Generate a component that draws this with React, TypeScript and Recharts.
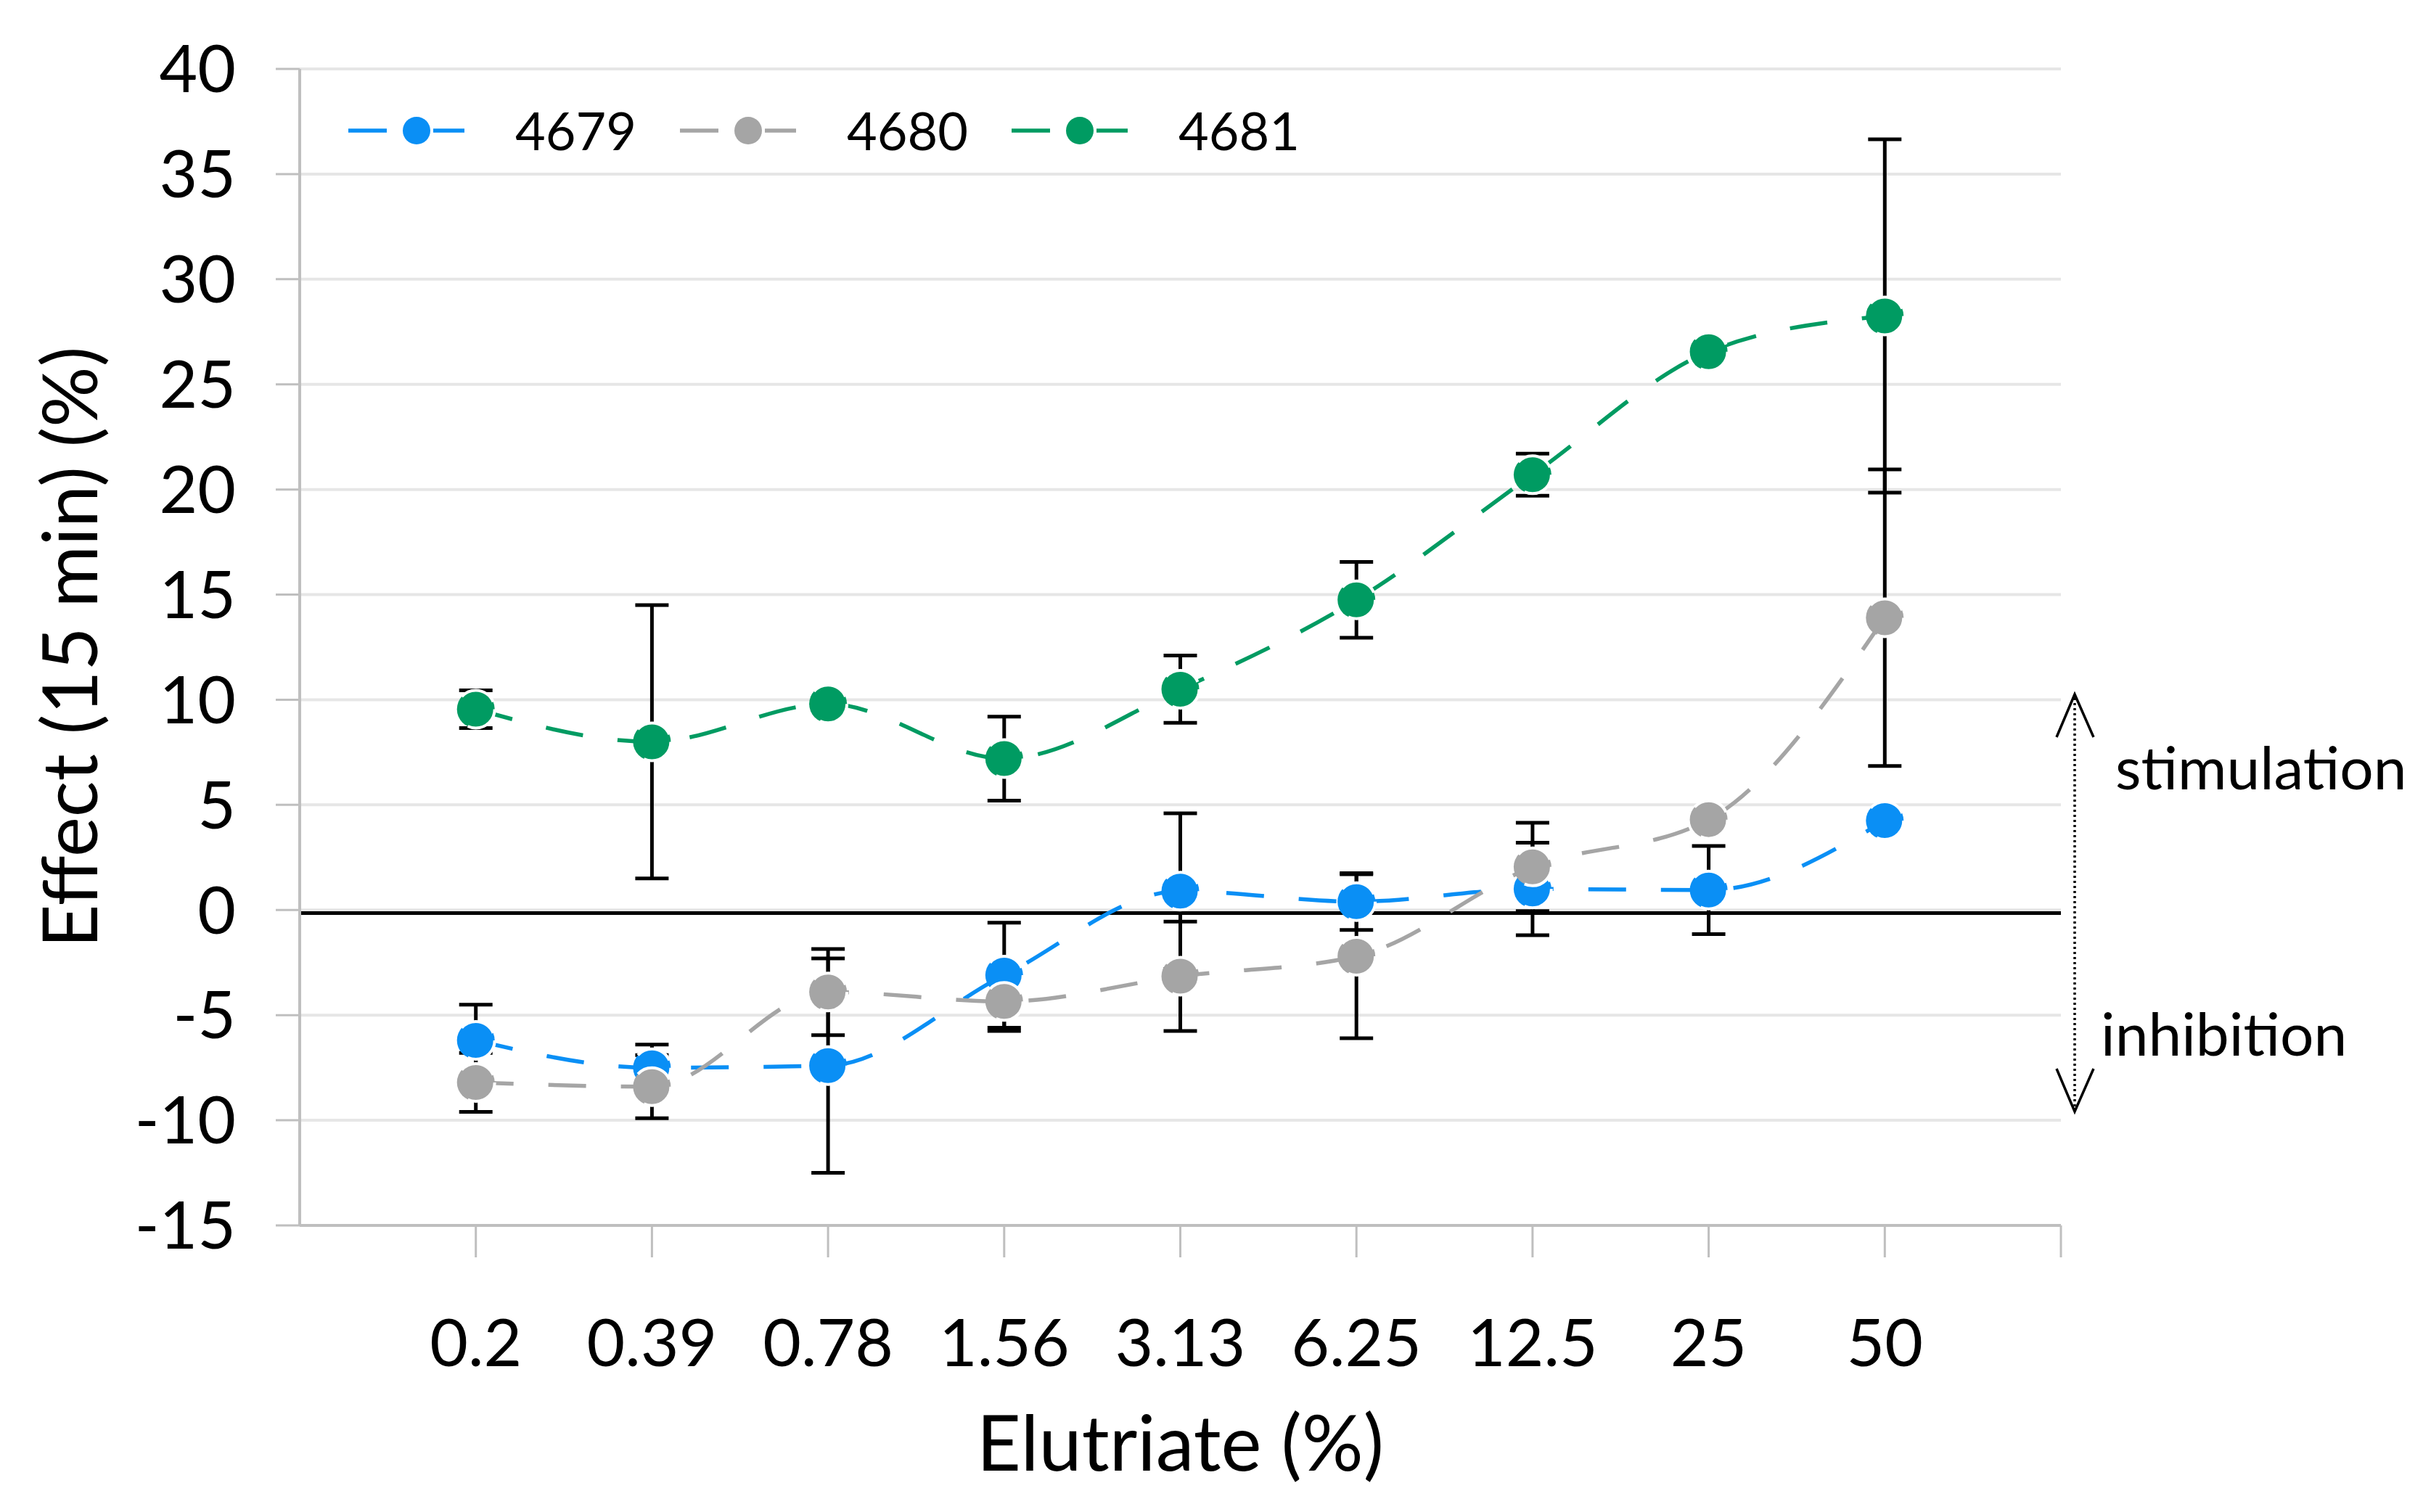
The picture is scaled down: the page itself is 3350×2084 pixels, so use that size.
import React from 'react'
import { LineChart, Line, XAxis, YAxis, CartesianGrid, ErrorBar, ReferenceLine } from 'recharts'

const categories = ['0.2', '0.39', '0.78', '1.56', '3.13', '6.25', '12.5', '25', '50']

const mean4679 = [-6.2, -7.5, -7.4, -3.1, 0.9, 0.4, 1.0, 0.95, 4.25]
const err4679 = [1.7, 1.1, 5.1, 2.5, 3.7, 1.35, 2.2, 2.1, 0.3]

const mean4680 = [-8.2, -8.4, -3.9, -4.35, -3.15, -2.2, 2.05, 4.3, 13.9]
const err4680 = [1.4, 1.5, 2.05, 1.4, 2.6, 3.9, 2.1, 0.3, 7.05]

const mean4681 = [9.55, 8.0, 9.8, 7.2, 10.5, 14.75, 20.7, 26.55, 28.25]
const err4681 = [0.9, 6.5, 0.3, 2.0, 1.6, 1.8, 1.0, 0.3, 8.4]

const yTicks = [-15, -10, -5, 0, 5, 10, 15, 20, 25, 30, 35, 40]
const xTicks = [1, 2, 3, 4, 5, 6, 7, 8, 9, 10]

const series = [
  { key: 's4679', err: 'e4679', name: '4679', color: '#0a8ff5' },
  { key: 's4680', err: 'e4680', name: '4680', color: '#a5a5a5' },
  { key: 's4681', err: 'e4681', name: '4681', color: '#009b62' },
]

const data = categories.map((c, i) => ({
  pos: i + 1,
  label: c,
  s4679: mean4679[i],
  e4679: err4679[i],
  s4680: mean4680[i],
  e4680: err4680[i],
  s4681: mean4681[i],
  e4681: err4681[i],
}))

const FONT = 'Lato, "Open Sans", sans-serif'

function YTitle(props: any) {
  const vb = props && props.viewBox ? props.viewBox : null
  const cy = vb && vb.height ? vb.y + vb.height / 2 : 892
  const cx = 134
  return (
    <text
      x={cx}
      y={cy}
      transform={`rotate(-90 ${cx} ${cy})`}
      textAnchor="middle"
      fontSize={104}
      fill="#000"
      fontFamily={FONT}
    >
      Effect (15 min) (%)
    </text>
  )
}

function Overlay() {
  return (
    <svg
      width={3350}
      height={2084}
      style={{ position: 'absolute', left: 0, top: 0, pointerEvents: 'none', fontFamily: FONT }}
    >
      {series.map((s, i) => {
        const x0 = 480 + i * 457
        return (
          <g key={s.key}>
            <line x1={x0} y1={180} x2={x0 + 53} y2={180} stroke={s.color} strokeWidth={5.5} />
            <line x1={x0 + 117} y1={180} x2={x0 + 160} y2={180} stroke={s.color} strokeWidth={5.5} />
            <circle cx={x0 + 94} cy={180} r={19} fill={s.color} />
            <text x={x0 + 230} y={207} fontSize={72} fill="#000">
              {s.name}
            </text>
          </g>
        )
      })}
      <line x1={2859} y1={962} x2={2859} y2={1527} stroke="#000" strokeWidth={3.5} strokeDasharray="3 4" />
      <polyline points="2834,1016 2859,957 2885,1016" fill="none" stroke="#000" strokeWidth={3.5} />
      <polyline points="2834,1473 2859,1532 2885,1473" fill="none" stroke="#000" strokeWidth={3.5} />
      <text x={2915} y={1088} fontSize={82} fill="#000">
        stimulation
      </text>
      <text x={2895} y={1455} fontSize={82} fill="#000">
        inhibition
      </text>
    </svg>
  )
}

export default function App() {
  return (
    <div style={{ position: 'relative', width: 3350, height: 2084, background: '#fff', fontFamily: FONT }}>
      <style>{'body{margin:0}'}</style>
      <LineChart
        width={3350}
        height={2084}
        data={data}
        margin={{ top: 95, right: 510, bottom: 0, left: 0 }}
        style={{ fontFamily: FONT }}
      >
        <CartesianGrid vertical={false} stroke="#e6e6e6" strokeWidth={4} />
        <XAxis
          type="number"
          dataKey="pos"
          domain={[0, 10]}
          ticks={xTicks}
          interval={0}
          tickFormatter={(v: number) => categories[v - 1] ?? ''}
          height={395}
          axisLine={{ stroke: '#bfbfbf', strokeWidth: 4 }}
          tickLine={{ stroke: '#bfbfbf', strokeWidth: 3 }}
          tickSize={44}
          tickMargin={85}
          tick={{ fill: '#000', fontSize: 91 }}
          label={{ value: 'Elutriate (%)', position: 'insideBottom', offset: 57, fontSize: 106, fill: '#000' }}
        />
        <YAxis
          type="number"
          domain={[-15, 40]}
          ticks={yTicks}
          interval={0}
          width={413}
          axisLine={{ stroke: '#bfbfbf', strokeWidth: 4 }}
          tickLine={{ stroke: '#bfbfbf', strokeWidth: 3 }}
          tickSize={33}
          tickMargin={55}
          tick={{ fill: '#000', fontSize: 91 }}
          label={(p: any) => <YTitle {...p} />}
        />
        <ReferenceLine y={-0.15} stroke="#000" strokeWidth={5} />
        {series.map((s) => (
          <Line
            key={s.key}
            dataKey={s.key}
            name={s.name}
            type="monotone"
            stroke={s.color}
            strokeWidth={5.5}
            strokeDasharray="52 48"
            dot={{ r: 26, fill: s.color, stroke: '#fff', strokeWidth: 4 }}
            activeDot={false}
            isAnimationActive={false}
          >
            <ErrorBar dataKey={s.err} direction="y" width={23} stroke="#000" strokeWidth={5} />
          </Line>
        ))}
      </LineChart>
      <Overlay />
    </div>
  )
}
